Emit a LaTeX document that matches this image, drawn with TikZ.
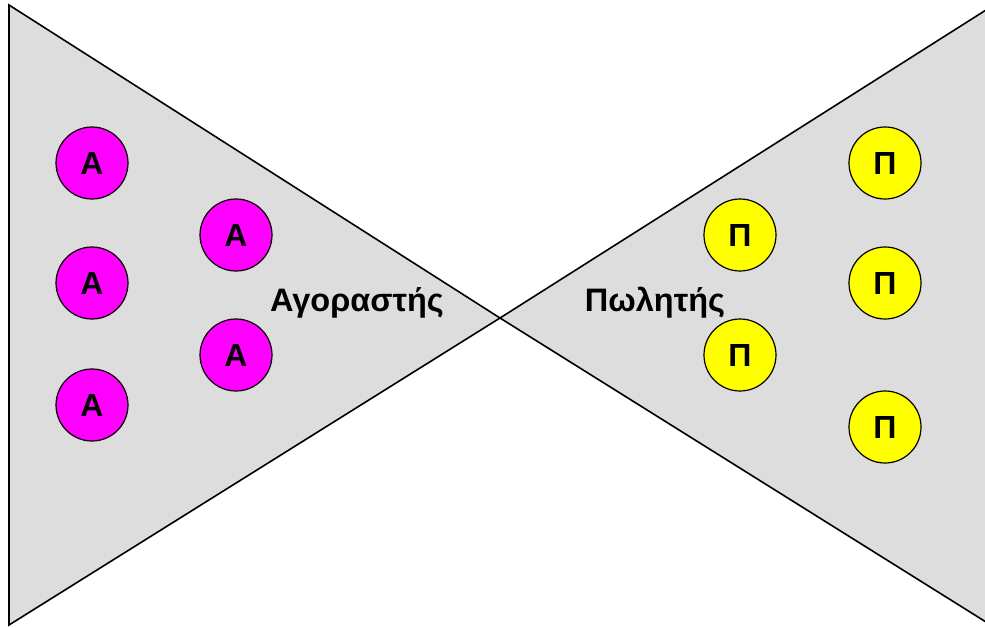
\documentclass[tikz,border=0pt]{standalone}
\usepackage{fontspec}
\setmainfont{Liberation Sans}
\definecolor{mag}{HTML}{FF00FF}
\definecolor{yel}{HTML}{FFFF00}
\definecolor{wedgegray}{HTML}{DDDDDD}
\begin{document}
\begin{tikzpicture}[x=1pt,y=-1pt,
  wedge/.style={draw=black,line width=1.6pt,fill=wedgegray,line join=miter},
  buyer/.style={circle,draw=black,line width=1.2pt,fill=mag,minimum size=72pt,inner sep=0pt,font=\bfseries\fontsize{32}{34}\selectfont},
  seller/.style={circle,draw=black,line width=1.2pt,fill=yel,minimum size=72pt,inner sep=0pt,font=\bfseries\fontsize{32}{34}\selectfont},
  lbl/.style={font=\bfseries\fontsize{32.5}{34}\selectfont,inner sep=0pt}]
\useasboundingbox (0,0) rectangle (985,627);
\coordinate (lt) at (9,5);
\coordinate (lb) at (9,625);
\coordinate (mid) at (500,318);
\coordinate (rt) at (986,10);
\coordinate (rb) at (986,622);
\draw[wedge] (lt) -- (mid) -- (lb) -- cycle;
\fill[wedgegray] (rt) -- (rb) -- (mid) -- cycle;
\draw[line width=1.6pt] (rt) -- (mid) -- (rb);
\node[buyer] (a1) at (92,163) {Α};
\node[buyer] (a2) at (92,283) {Α};
\node[buyer] (a3) at (92,405) {Α};
\node[buyer] (a4) at (236,235) {Α};
\node[buyer] (a5) at (236,355) {Α};
\node[seller] (p1) at (740,235) {Π};
\node[seller] (p2) at (740,355) {Π};
\node[seller] (p3) at (885,163) {Π};
\node[seller] (p4) at (885,283) {Π};
\node[seller] (p5) at (885,427) {Π};
\node[lbl] (buy) at (357,303) {Αγοραστής};
\node[lbl] (sell) at (655,303) {Πωλητής};
\end{tikzpicture}
\end{document}
